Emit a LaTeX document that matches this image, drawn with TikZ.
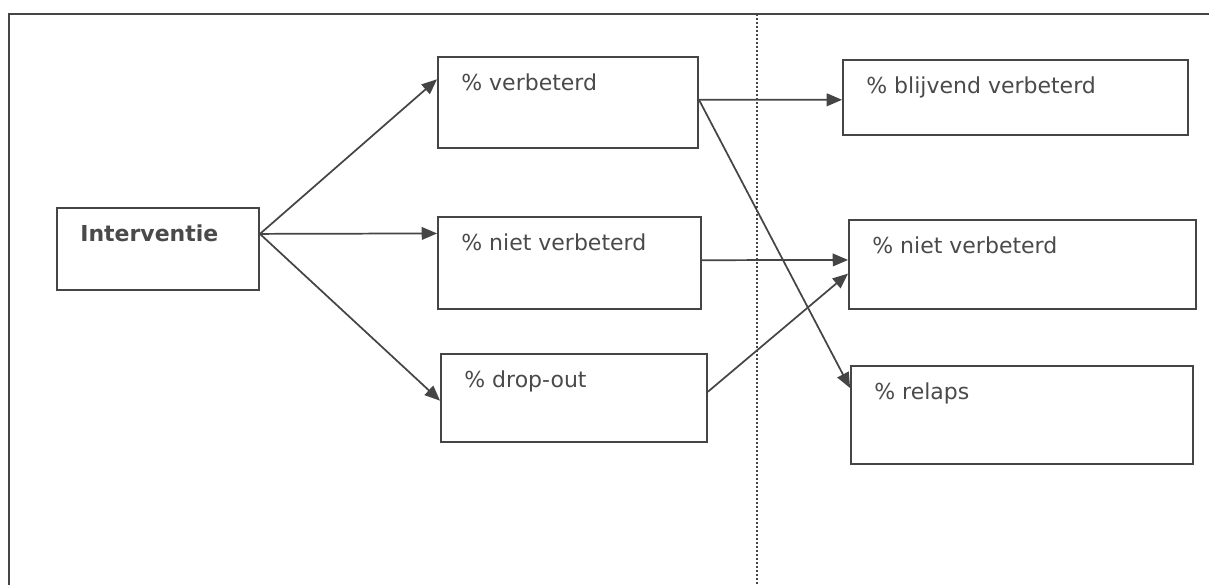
\documentclass[tikz,border=0pt]{standalone}
\usepackage{fontspec}
\setmainfont{DejaVu Sans}
\usepackage{xcolor}
\usetikzlibrary{arrows.meta,calc}
\definecolor{inkgray}{HTML}{454545}
\definecolor{textgray}{HTML}{4A4A4A}
\tikzset{
  box/.style={draw=inkgray,line width=1.4pt,inner sep=0pt,rectangle},
  lbl/.style={anchor=north west,inner sep=0pt,xshift=18pt,yshift=-13pt,text=textgray,font=\fontsize{16.5}{20}\selectfont},
  pijl/.style={draw=inkgray,line width=1.3pt,-{Triangle[length=11.5pt,width=9.5pt]}}
}
\begin{document}
\begin{tikzpicture}[x=0.75pt,y=0.75pt,yscale=-1,xscale=1]
\useasboundingbox (0,0) rectangle (1209,585);

%Straight Lines: frame
\draw [inkgray,line width=1.5pt] (9,585) -- (9,14) -- (1209,14) ;
%Straight Lines: dotted divider
\draw [inkgray,line width=1pt,dash pattern=on 1.2pt off 1.8pt] (757,14) -- (757,585) ;

%Shape: Rectangle
\node [box,minimum width=151.5pt,minimum height=61.5pt,label={[lbl,font=\fontsize{16.5}{20}\selectfont\bfseries]north west:Interventie}] (int) at (158,249) {};
%Shape: Rectangle
\node [box,minimum width=195pt,minimum height=68.25pt,label={[lbl]north west:\% verbeterd}] (verb) at (568,102.5) {};
%Shape: Rectangle
\node [box,minimum width=197.25pt,minimum height=69pt,label={[lbl]north west:\% niet verbeterd}] (niet) at (569.5,263) {};
%Shape: Rectangle
\node [box,minimum width=199.5pt,minimum height=66pt,label={[lbl]north west:\% drop-out}] (drop) at (574,398) {};
%Shape: Rectangle
\node [box,minimum width=258.75pt,minimum height=56.25pt,label={[lbl]north west:\% blijvend verbeterd}] (blijv) at (1015.5,97.5) {};
%Shape: Rectangle
\node [box,minimum width=260.25pt,minimum height=66.75pt,label={[lbl]north west:\% niet verbeterd}] (niettwee) at (1022.5,264.5) {};
%Shape: Rectangle
\node [box,minimum width=256.5pt,minimum height=73.5pt,label={[lbl]north west:\% relaps}] (rel) at (1022,415) {};

%Straight Lines: from Interventie
\coordinate (intout) at ($(int.north east)!0.32!(int.south east)$);
\draw [pijl] (intout) -- ($(verb.north west)!0.25!(verb.south west)$) ;
\draw [pijl] (intout) -- ($(niet.north west)!0.185!(niet.south west)$) ;
\draw [pijl] (intout) -- ($(drop.north west)!0.53!(drop.south west)$) ;
%Straight Lines: from verbeterd
\coordinate (verbout) at ($(verb.north east)!0.47!(verb.south east)$);
\draw [pijl] (verbout) -- ($(blijv.north west)!0.53!(blijv.south west)$) ;
\draw [pijl] (verbout) -- ($(rel.north west)!0.23!(rel.south west)$) ;
%Straight Lines: from niet verbeterd
\draw [pijl] ($(niet.north east)!0.47!(niet.south east)$) -- ($(niettwee.north west)!0.45!(niettwee.south west)$) ;
%Straight Lines: from drop-out
\draw [pijl] ($(drop.north east)!0.43!(drop.south east)$) -- ($(niettwee.north west)!0.6!(niettwee.south west)$) ;
\end{tikzpicture}
\end{document}
